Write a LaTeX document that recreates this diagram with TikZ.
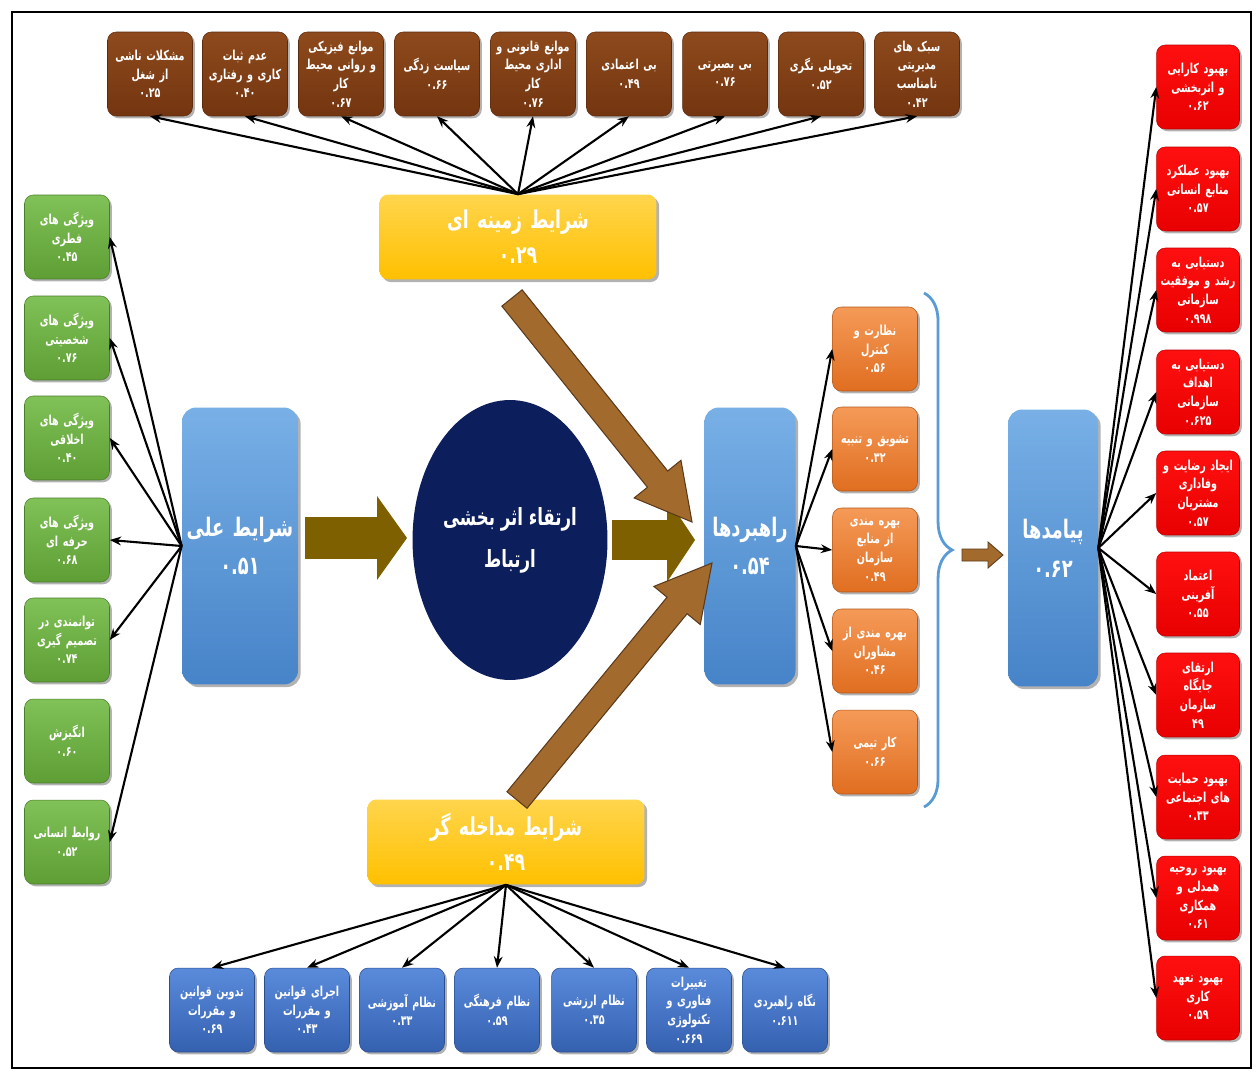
\documentclass[tikz,border=0pt]{standalone}
\usepackage{fontspec}
\usetikzlibrary{shapes.geometric,calc,decorations.pathreplacing,shadows,arrows.meta}
\TeXXeTstate=1
\newfontfamily\farsi[Script=Arabic, FakeStretch=0.7]{DejaVu Sans}
\newcommand{\R}[1]{\beginR #1\endR}
\definecolor{brownT}{HTML}{8E4A1C}
\definecolor{brownB}{HTML}{733510}
\definecolor{greenT}{HTML}{80C257}
\definecolor{greenB}{HTML}{5E9E35}
\definecolor{lblueT}{HTML}{78B0E6}
\definecolor{lblueB}{HTML}{4683C8}
\definecolor{dblueT}{HTML}{5A8BDB}
\definecolor{dblueB}{HTML}{3560B0}
\definecolor{orangeT}{HTML}{F59A58}
\definecolor{orangeB}{HTML}{E06E20}
\definecolor{redT}{HTML}{FF1010}
\definecolor{redB}{HTML}{E80000}
\definecolor{yelT}{HTML}{FFD54D}
\definecolor{yelB}{HTML}{FFC000}
\definecolor{navy}{HTML}{0C1F5C}
\definecolor{olive}{HTML}{7F6000}
\definecolor{sienna}{HTML}{A36A2E}
\definecolor{siennaD}{HTML}{5A3A1A}
\definecolor{brace}{HTML}{5B9BD5}
\newcommand{\blockarrow}[6]{%
  \coordinate (ba-b) at ($(#2)!#5!(#1)$);
  \filldraw[#6] ($(#1)!#3!90:(#2)$) -- ($(ba-b)!#3!90:(#2)$) -- ($(ba-b)!#4!90:(#2)$) -- (#2)
    -- ($(ba-b)!#4!-90:(#2)$) -- ($(ba-b)!#3!-90:(#2)$) -- ($(#1)!#3!-90:(#2)$) -- cycle;}
\tikzset{
  sbox/.style={rounded corners=5pt, minimum width=1.7cm, minimum height=1.68cm, text width=1.64cm,
    align=center, inner sep=0pt, text=white, font=\farsi\bfseries\fontsize{7.8}{10.6}\selectfont,
    general shadow={shadow xshift=1.3pt, shadow yshift=-1.3pt, opacity=0.3, fill=black}},
  brownbox/.style={sbox, top color=brownT, bottom color=brownB, draw=brownB!80!black, line width=0.3pt},
  greenbox/.style={sbox, top color=greenT, bottom color=greenB, draw=greenB!80!black, line width=0.3pt},
  redbox/.style={sbox, minimum width=1.66cm, text width=1.6cm, top color=redT, bottom color=redB, draw=redB!80!black, line width=0.3pt},
  orangebox/.style={sbox, top color=orangeT, bottom color=orangeB, draw=orangeB!80!black, line width=0.3pt},
  dbluebox/.style={sbox, top color=dblueT, bottom color=dblueB, draw=dblueB!80!black, line width=0.3pt},
  bigbox/.style={rounded corners=8pt, minimum height=5.54cm, align=center, inner sep=0pt, text=white,
    top color=lblueT, bottom color=lblueB, font=\farsi\bfseries\fontsize{14.5}{22}\selectfont,
    general shadow={shadow xshift=1.5pt, shadow yshift=-1.5pt, opacity=0.3, fill=black}},
  yelbox/.style={rounded corners=5pt, minimum width=5.54cm, text width=5.4cm, minimum height=1.7cm, align=center, inner sep=0pt,
    text=white, top color=yelT, bottom color=yelB, font=\farsi\bfseries\fontsize{14}{20}\selectfont,
    general shadow={shadow xshift=1.5pt, shadow yshift=-1.5pt, opacity=0.3, fill=black}},
  conn/.style={-{Stealth[length=6.5pt,width=5pt]}, line width=1.2pt, black},
}
\begin{document}
\begin{tikzpicture}[x=0.02cm,y=-0.02cm]
\useasboundingbox (0,0) rectangle (1257,1074);
\draw[line width=0.9pt] (12,12) rectangle (1251,1068);

% top brown boxes
\node[brownbox] (b1) at (150,74) {\R{مشکلات ناشی}\\\R{از شغل}\\۰.۲۵};
\node[brownbox] (b2) at (245,74) {\R{عدم ثبات}\\\R{کاری و رفتاری}\\۰.۴۰};
\node[brownbox] (b3) at (341,74) {\R{موانع فیزیکی}\\\R{و روانی محیط}\\\R{کار}\\۰.۶۷};
\node[brownbox] (b4) at (437,74) {\R{سیاست زدگی}\\۰.۶۶};
\node[brownbox] (b5) at (533,74) {\R{موانع قانونی و}\\\R{اداری محیط}\\\R{کار}\\۰.۷۶};
\node[brownbox] (b6) at (629,74) {\R{بی اعتمادی}\\۰.۴۹};
\node[brownbox] (b7) at (725,74) {\R{بی بصیرتی}\\۰.۷۶};
\node[brownbox] (b8) at (821,74) {\R{تحویلی نگری}\\۰.۵۲};
\node[brownbox] (b9) at (917,74) {\R{سبک های}\\\R{مدیریتی}\\\R{نامناسب}\\۰.۴۲};

% green boxes
\node[greenbox] (g1) at (67,237) {\R{ویژگی های}\\\R{فطری}\\۰.۴۵};
\node[greenbox] (g2) at (67,338) {\R{ویژگی های}\\\R{شخصیتی}\\۰.۷۶};
\node[greenbox] (g3) at (67,438) {\R{ویژگی های}\\\R{اخلاقی}\\۰.۴۰};
\node[greenbox] (g4) at (67,540) {\R{ویژگی های}\\\R{حرفه ای}\\۰.۶۸};
\node[greenbox] (g5) at (67,640) {\R{توانمندی در}\\\R{تصمیم گیری}\\۰.۷۴};
\node[greenbox] (g6) at (67,741) {\R{انگیزش}\\۰.۶۰};
\node[greenbox] (g7) at (67,842) {\R{روابط انسانی}\\۰.۵۲};

% red boxes
\node[redbox] (r1) at (1198,87) {\R{بهبود کارایی}\\\R{و اثربخشی}\\۰.۶۲};
\node[redbox] (r2) at (1198,189) {\R{بهبود عملکرد}\\\R{منابع انسانی}\\۰.۵۷};
\node[redbox] (r3) at (1198,290) {\R{دستیابی به}\\\R{رشد و موفقیت}\\\R{سازمانی}\\۰.۹۹۸};
\node[redbox] (r4) at (1198,392) {\R{دستیابی به}\\\R{اهداف}\\\R{سازمانی}\\۰.۶۲۵};
\node[redbox] (r5) at (1198,493) {\R{ایجاد رضایت و}\\\R{وفاداری}\\\R{مشتریان}\\۰.۵۷};
\node[redbox] (r6) at (1198,594) {\R{اعتماد}\\\R{آفرینی}\\۰.۵۵};
\node[redbox] (r7) at (1198,695) {\R{ارتقای}\\\R{جایگاه}\\\R{سازمان}\\۴۹};
\node[redbox] (r8) at (1198,797) {\R{بهبود حمایت}\\\R{های اجتماعی}\\۰.۳۳};
\node[redbox] (r9) at (1198,898) {\R{بهبود روحیه}\\\R{همدلی و}\\\R{همکاری}\\۰.۶۱};
\node[redbox] (r10) at (1198,998) {\R{بهبود تعهد}\\\R{کاری}\\۰.۵۹};

% orange boxes
\node[orangebox] (o1) at (875,349) {\R{نظارت و}\\\R{کنترل}\\۰.۵۶};
\node[orangebox] (o2) at (875,449) {\R{تشویق و تنبیه}\\۰.۳۲};
\node[orangebox] (o3) at (875,550) {\R{بهره مندی}\\\R{از منابع}\\\R{سازمان}\\۰.۴۹};
\node[orangebox] (o4) at (875,651) {\R{بهره مندی از}\\\R{مشاوران}\\۰.۴۶};
\node[orangebox] (o5) at (875,752) {\R{کار تیمی}\\۰.۶۶};

% bottom blue boxes
\node[dbluebox] (u1) at (212,1010) {\R{تدوین قوانین}\\\R{و مقررات}\\۰.۶۹};
\node[dbluebox] (u2) at (307,1010) {\R{اجرای قوانین}\\\R{و مقررات}\\۰.۴۳};
\node[dbluebox] (u3) at (402,1010) {\R{نظام آموزشی}\\۰.۳۳};
\node[dbluebox] (u4) at (497,1010) {\R{نظام فرهنگی}\\۰.۵۹};
\node[dbluebox] (u5) at (594,1010) {\R{نظام ارزشی}\\۰.۳۵};
\node[dbluebox] (u6) at (689,1010) {\R{تغییرات}\\\R{فناوری و}\\\R{تکنولوژی}\\۰.۶۶۹};
\node[dbluebox] (u7) at (785,1010) {\R{نگاه راهبردی}\\۰.۶۱۱};

% central nodes
\node[yelbox] (zam) at (518,237) {\R{شرایط زمینه ای}\\۰.۲۹};
\node[yelbox] (mod) at (506,842) {\R{شرایط مداخله گر}\\۰.۴۹};
\node[bigbox, minimum width=2.32cm, text width=2.2cm] (ali) at (240,546) {\R{شرایط علی}\\۰.۵۱};
\node[bigbox, minimum width=1.82cm, text width=1.75cm] (rah) at (750,546) {\R{راهبردها}\\۰.۵۴};
\node[bigbox, minimum width=1.8cm, text width=1.75cm] (pay) at (1053,548) {\R{پیامدها}\\۰.۶۲};
\node[ellipse, fill=navy, minimum width=3.9cm, minimum height=5.6cm, inner sep=0pt] (core) at (510,540) {};
\node[text=white, align=center, font=\farsi\bfseries\fontsize{13.5}{24}\selectfont] (coretext) at (core.center)
  {\beginR ارتقاء اثر بخشی\endR\\\beginR ارتباط\endR};

% thin connectors
\foreach \i in {1,...,9} \draw[conn] (zam.north) -- (b\i.south);
\foreach \i in {1,...,7} \draw[conn] (mod.south) -- (u\i.north);
\foreach \i in {1,2,3,4,5,7} \draw[conn] (ali.west) -- (g\i.east);
\foreach \i in {1,...,5} \draw[conn] (rah.east) -- (o\i.west);
\foreach \i in {1,...,10} \draw[conn] (pay.east) -- (r\i.west);

% block arrows
\coordinate (a1s) at (305,538); \coordinate (a1e) at (407,538);
\coordinate (a2s) at (612,540); \coordinate (a2e) at (695,540);
\coordinate (a3s) at (512,298); \coordinate (a3e) at (692,522);
\coordinate (a4s) at (517,800); \coordinate (a4e) at (712,563);
\coordinate (a5s) at (962,555); \coordinate (a5e) at (1003,555);
\blockarrow{a1s}{a1e}{0.42cm}{0.84cm}{0.6cm}{fill=olive, draw=none}
\blockarrow{a2s}{a2e}{0.4cm}{0.84cm}{0.56cm}{fill=olive, draw=none}
\blockarrow{a3s}{a3e}{0.26cm}{0.6cm}{1.1cm}{fill=sienna, draw=siennaD, line width=0.6pt}
\blockarrow{a4s}{a4e}{0.26cm}{0.6cm}{1.1cm}{fill=sienna, draw=siennaD, line width=0.6pt}
\blockarrow{a5s}{a5e}{0.12cm}{0.26cm}{0.3cm}{fill=sienna, draw=siennaD, line width=0.5pt}

% brace
\draw[brace, line width=1.6pt, decorate, decoration={brace, amplitude=16pt, aspect=0.5}] (924,293) -- (924,807);
\end{tikzpicture}
\end{document}
